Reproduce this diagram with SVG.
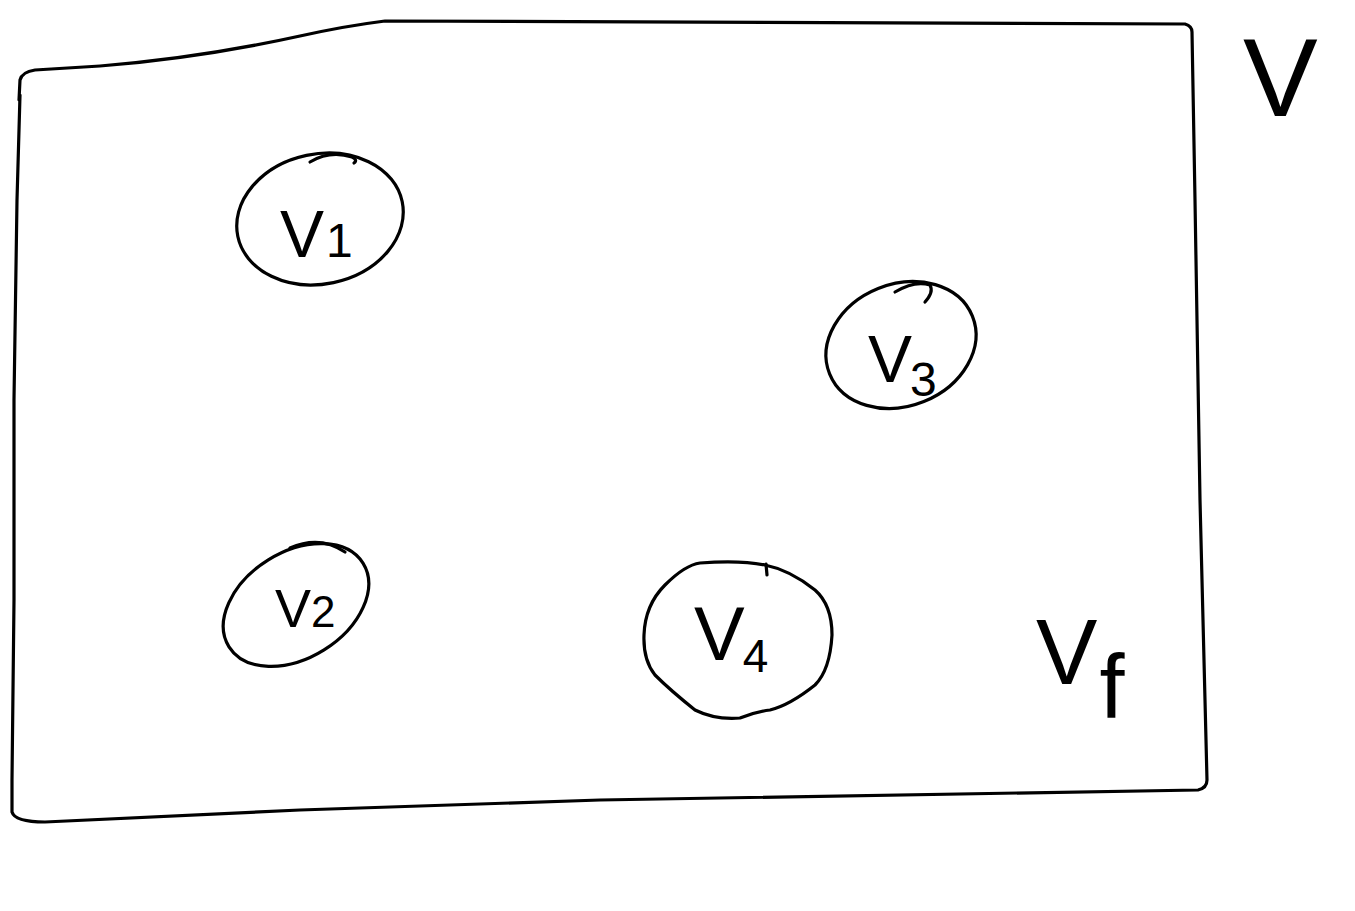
<svg xmlns="http://www.w3.org/2000/svg" width="1355" height="911" viewBox="0 0 1355 911">
<style>
.s{fill:none;stroke:#000;stroke-width:3.2;stroke-linecap:round;stroke-linejoin:round}
.t{font-family:"Liberation Sans","DejaVu Sans",sans-serif;fill:#000}
</style>
<rect width="1355" height="911" fill="#fff"/>
<g id="frame">
<path class="s" d="M19,100 L20,80 Q22,72 35,70 L100,66 Q200,58 300,36 Q345,26 385,21 L1185,24 Q1192,26 1192,32 L1195,200 L1200,500 L1205,700 L1207,780 Q1207,788 1198,790 L600,800 L300,810 L45,822 Q15,822 12,812 L12,780 L14,600 L14,400 L17,200 L20,95"/>
</g>
<g id="v1">
<ellipse class="s" cx="320" cy="219" rx="84" ry="65" transform="rotate(-12 320 219)"/>
<path class="s" d="M310,162 Q330,150 352,157 Q358,160 354,163"/>
<text class="t" x="280" y="257" font-size="66">V<tspan font-size="48" dx="2">1</tspan></text>
</g>
<g id="v3">
<ellipse class="s" cx="901" cy="345" rx="77" ry="61" transform="rotate(-22 901 345)"/>
<path class="s" d="M895,292 Q915,280 930,285 Q934,292 925,302"/>
<text class="t" x="868" y="382" font-size="66">V<tspan font-size="48" dx="-2" dy="14">3</tspan></text>
</g>
<g id="v2">
<ellipse class="s" cx="296" cy="605" rx="79" ry="53" transform="rotate(-32 296 605)"/>
<path class="s" d="M290,548 Q320,535 345,552"/>
<text class="t" x="275" y="627" font-size="54">V<tspan font-size="44" dx="0">2</tspan></text>
</g>
<g id="v4">
<path class="s" d="M700,563 Q740,560 765,565 Q790,570 815,590 Q832,605 832,635 Q830,670 815,685 Q790,705 770,710 Q755,712 740,718 Q715,720 695,710 Q670,690 655,675 Q643,660 644,635 Q645,605 665,585 Q685,565 700,563 Z"/>
<path class="s" d="M766,564 L767,575"/>
<text class="t" x="694" y="660" font-size="76">V<tspan font-size="46" dx="-2" dy="12">4</tspan></text>
</g>
<g id="vf">
<text class="t" x="1036" y="684" font-size="92">V<tspan font-size="90" dx="2" dy="34">f</tspan></text>
</g>
<g id="set-label">
<text class="t" x="1243" y="116" font-size="112">V</text>
</g>
<g id="connectors"></g>
</svg>
